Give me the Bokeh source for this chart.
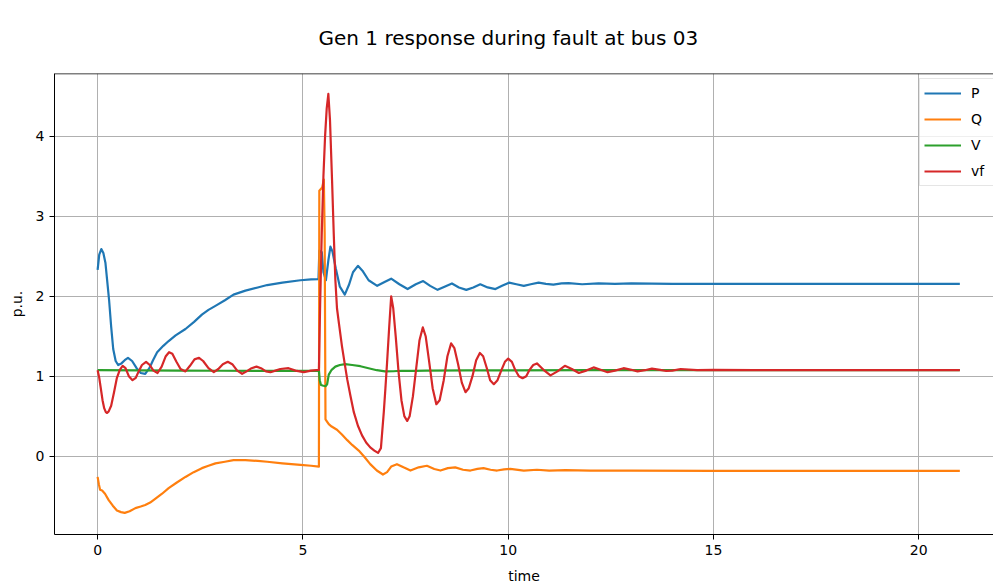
from bokeh.plotting import figure
from bokeh.models import Legend, LegendItem, Span, FixedTicker, Range1d
from bokeh.embed import file_html
from bokeh.resources import INLINE

# Generator 1 quantities (p.u.) versus time (s), as (time, value) samples
P = [(0, 2.33), (0.04, 2.52), (0.09, 2.59), (0.14, 2.54), (0.19, 2.42), (0.23, 2.21),
     (0.28, 1.95), (0.33, 1.62), (0.38, 1.34), (0.44, 1.19), (0.50, 1.14), (0.58, 1.16),
     (0.66, 1.20), (0.74, 1.23), (0.84, 1.19), (0.95, 1.10), (1.05, 1.04), (1.16, 1.03),
     (1.26, 1.10), (1.35, 1.20), (1.45, 1.30), (1.60, 1.38), (1.73, 1.44), (1.90, 1.51),
     (2.14, 1.59), (2.35, 1.68), (2.54, 1.77), (2.70, 1.83), (2.87, 1.88), (3.10, 1.95),
     (3.31, 2.02), (3.60, 2.07), (3.90, 2.11), (4.13, 2.14), (4.50, 2.17), (4.94, 2.20),
     (5.20, 2.21), (5.38, 2.215),
     (5.40, 2.57), (5.46, 2.55), (5.50, 2.30), (5.56, 2.20), (5.62, 2.45), (5.67, 2.62),
     (5.72, 2.56), (5.80, 2.35), (5.90, 2.12), (6.02, 2.02), (6.12, 2.14), (6.22, 2.30),
     (6.34, 2.38), (6.45, 2.32), (6.60, 2.20), (6.81, 2.13), (7.00, 2.18), (7.15, 2.22),
     (7.35, 2.15), (7.55, 2.09), (7.75, 2.15), (7.93, 2.19), (8.10, 2.13), (8.28, 2.08),
     (8.45, 2.12), (8.63, 2.16), (8.80, 2.11), (8.98, 2.08), (9.15, 2.11), (9.32, 2.15),
     (9.50, 2.11), (9.69, 2.09), (9.85, 2.13), (10.02, 2.17), (10.20, 2.15), (10.38, 2.13),
     (10.55, 2.15), (10.74, 2.17), (10.92, 2.155), (11.10, 2.145), (11.30, 2.16),
     (11.47, 2.165), (11.80, 2.15), (12.20, 2.16), (12.60, 2.155), (13.00, 2.16),
     (14.00, 2.155), (15.00, 2.155), (17.00, 2.155), (21.00, 2.155)]

Q = [(0, -0.26), (0.03, -0.35), (0.06, -0.42), (0.11, -0.43), (0.18, -0.47), (0.27, -0.55),
     (0.37, -0.62), (0.47, -0.68), (0.57, -0.70), (0.66, -0.71), (0.78, -0.69), (0.92, -0.65),
     (1.05, -0.63), (1.16, -0.61), (1.28, -0.58), (1.41, -0.53), (1.57, -0.47), (1.73, -0.40),
     (1.93, -0.33), (2.14, -0.26), (2.34, -0.20), (2.54, -0.15), (2.70, -0.12), (2.87, -0.09),
     (3.10, -0.07), (3.31, -0.05), (3.60, -0.05), (3.90, -0.06), (4.13, -0.07), (4.50, -0.09),
     (4.94, -0.11), (5.20, -0.12), (5.39, -0.13),
     (5.40, 3.32), (5.47, 3.36), (5.51, 3.46), (5.53, 2.80), (5.55, 0.46), (5.63, 0.40),
     (5.70, 0.37), (5.83, 0.33), (5.95, 0.27), (6.08, 0.20), (6.20, 0.14), (6.36, 0.07),
     (6.50, -0.01), (6.64, -0.10), (6.80, -0.18), (6.95, -0.23), (7.05, -0.20), (7.15, -0.13),
     (7.29, -0.10), (7.45, -0.14), (7.62, -0.18), (7.82, -0.14), (8.02, -0.12), (8.20, -0.16),
     (8.35, -0.18), (8.53, -0.15), (8.71, -0.14), (8.90, -0.17), (9.08, -0.18), (9.25, -0.16),
     (9.40, -0.15), (9.57, -0.17), (9.73, -0.18), (9.90, -0.165), (10.05, -0.16),
     (10.38, -0.18), (10.70, -0.17), (11.00, -0.18), (11.40, -0.175), (12.00, -0.18),
     (13.00, -0.18), (15.00, -0.185), (21.00, -0.185)]

V = [(0, 1.075), (1, 1.072), (2, 1.07), (3, 1.068), (4, 1.067), (5, 1.066), (5.39, 1.066),
     (5.41, 0.95), (5.44, 0.89), (5.50, 0.88), (5.55, 0.875), (5.59, 0.90), (5.63, 1.02),
     (5.70, 1.08), (5.79, 1.12), (5.90, 1.14), (6.03, 1.15), (6.20, 1.14), (6.40, 1.125),
     (6.60, 1.10), (6.80, 1.075), (7.00, 1.06), (7.20, 1.062), (7.40, 1.068), (7.70, 1.067),
     (8.00, 1.07), (9.00, 1.072), (10.00, 1.073), (12.00, 1.075), (21.00, 1.075)]

VF = [(0, 1.075), (0.04, 0.98), (0.08, 0.84), (0.12, 0.70), (0.16, 0.60), (0.20, 0.55),
      (0.23, 0.54), (0.27, 0.56), (0.33, 0.63), (0.40, 0.80), (0.47, 0.98), (0.54, 1.08),
      (0.61, 1.13), (0.68, 1.10), (0.76, 1.00), (0.85, 0.95), (0.93, 0.98), (1.00, 1.06),
      (1.08, 1.14), (1.18, 1.18), (1.27, 1.14), (1.36, 1.07), (1.46, 1.04), (1.56, 1.12),
      (1.66, 1.25), (1.74, 1.30), (1.82, 1.28), (1.92, 1.18), (2.02, 1.09), (2.14, 1.06),
      (2.25, 1.13), (2.36, 1.21), (2.47, 1.23), (2.57, 1.19), (2.70, 1.10), (2.83, 1.05),
      (2.94, 1.09), (3.05, 1.15), (3.17, 1.18), (3.28, 1.15), (3.40, 1.07), (3.52, 1.03),
      (3.63, 1.06), (3.75, 1.10), (3.87, 1.12), (3.98, 1.10), (4.10, 1.06), (4.21, 1.05),
      (4.33, 1.07), (4.45, 1.09), (4.65, 1.10), (4.82, 1.07), (5.02, 1.05), (5.20, 1.07),
      (5.39, 1.08),
      (5.42, 1.90), (5.46, 2.80), (5.50, 3.50), (5.54, 4.00), (5.58, 4.35), (5.62, 4.53),
      (5.66, 4.20), (5.71, 3.45), (5.75, 2.80), (5.79, 2.21), (5.83, 1.85), (5.88, 1.65),
      (5.95, 1.38), (6.02, 1.15), (6.08, 0.96), (6.16, 0.75), (6.24, 0.55), (6.34, 0.38),
      (6.44, 0.26), (6.54, 0.17), (6.64, 0.11), (6.74, 0.07), (6.83, 0.04), (6.90, 0.10),
      (6.97, 0.55), (7.01, 0.85), (7.05, 1.17), (7.10, 1.60), (7.15, 2.00), (7.20, 1.85),
      (7.26, 1.50), (7.33, 1.05), (7.40, 0.70), (7.47, 0.50), (7.54, 0.44), (7.60, 0.50),
      (7.68, 0.75), (7.76, 1.10), (7.84, 1.45), (7.92, 1.61), (7.99, 1.50), (8.07, 1.20),
      (8.16, 0.85), (8.25, 0.65), (8.33, 0.70), (8.43, 0.95), (8.52, 1.25), (8.61, 1.41),
      (8.69, 1.35), (8.78, 1.15), (8.87, 0.92), (8.96, 0.80), (9.04, 0.85), (9.13, 1.00),
      (9.22, 1.20), (9.31, 1.29), (9.39, 1.25), (9.48, 1.10), (9.56, 0.95), (9.65, 0.90),
      (9.74, 0.95), (9.83, 1.07), (9.92, 1.18), (10.00, 1.22), (10.09, 1.18), (10.17, 1.08),
      (10.26, 1.00), (10.35, 0.975), (10.44, 1.00), (10.52, 1.08), (10.61, 1.14),
      (10.70, 1.16), (10.86, 1.08), (11.03, 1.01), (11.20, 1.06), (11.38, 1.13),
      (11.55, 1.09), (11.72, 1.04), (11.90, 1.07), (12.08, 1.11), (12.25, 1.08),
      (12.42, 1.05), (12.60, 1.07), (12.81, 1.10), (13.00, 1.08), (13.15, 1.06),
      (13.33, 1.075), (13.50, 1.095), (13.70, 1.08), (13.85, 1.065), (14.00, 1.07),
      (14.20, 1.09), (14.60, 1.075), (15.00, 1.08), (16.00, 1.075), (18.00, 1.075),
      (21.00, 1.075)]

SERIES = [("P", P, "#1f77b4"), ("Q", Q, "#ff7f0e"), ("V", V, "#2ca02c"), ("vf", VF, "#d62728")]
X_TICKS = [0, 5, 10, 15, 20]
Y_TICKS = [0, 1, 2, 3, 4]
TITLE = "Gen 1 response during fault at bus 03"

FONT = "DejaVu Sans"
Y_TOP = 4.786

p = figure(width=993, height=586,
           x_range=Range1d(-1.05, 21.82), y_range=Range1d(-0.98, Y_TOP),
           output_backend="svg", toolbar_location=None,
           min_border_left=54, min_border_right=0, min_border_top=73, min_border_bottom=50)
p.background_fill_color = "white"
p.border_fill_color = "white"
p.outline_line_color = None

p.title.text = TITLE
p.title.align = "left"
p.title.vertical_align = "top"
p.title.text_font = FONT
p.title.text_font_size = "20px"
p.title.text_font_style = "normal"
p.title.text_color = "black"
p.title.offset = 264
p.title.standoff = 43

for ax in (p.xaxis[0], p.yaxis[0]):
    ax.axis_line_color = "black"
    ax.axis_line_width = 1
    ax.major_tick_line_color = "black"
    ax.major_tick_out = 5
    ax.major_tick_in = 0
    ax.minor_tick_line_color = None
    ax.major_label_text_font = FONT
    ax.major_label_text_font_size = "14px"
    ax.major_label_text_color = "black"
    ax.major_label_standoff = 5
    ax.axis_label_text_font = FONT
    ax.axis_label_text_font_size = "14px"
    ax.axis_label_text_font_style = "normal"
    ax.axis_label_text_color = "black"

p.xaxis.ticker = FixedTicker(ticks=X_TICKS)
p.yaxis.ticker = FixedTicker(ticks=Y_TICKS)
p.xaxis.axis_label = "time"
p.yaxis.axis_label = "p.u."
p.xaxis.axis_label_standoff = 10
p.yaxis.axis_label_standoff = 8

for g in (p.xgrid[0], p.ygrid[0]):
    g.grid_line_color = "#b0b0b0"
    g.grid_line_width = 1
p.xgrid.ticker = FixedTicker(ticks=X_TICKS)
p.ygrid.ticker = FixedTicker(ticks=Y_TICKS)

items = []
for name, data, color in SERIES:
    t = [d[0] for d in data]
    v = [d[1] for d in data]
    r = p.line(t, v, line_color=color, line_width=2.2, line_join="round")
    items.append(LegendItem(label=name, renderers=[r]))

# top spine of the axes box
p.add_layout(Span(location=Y_TOP, dimension="width", line_color="black", line_width=1.5))

legend = Legend(items=items, location=(865, 348),
                label_text_font=FONT, label_text_font_size="14px", label_text_color="black",
                glyph_width=37, glyph_height=20, label_height=20, label_width=30,
                spacing=6, padding=4, margin=0, label_standoff=10,
                border_line_color="#cccccc", border_line_width=1,
                background_fill_color="white", background_fill_alpha=0.8)
p.add_layout(legend)

open("out.html", "w").write(file_html(p, INLINE))
